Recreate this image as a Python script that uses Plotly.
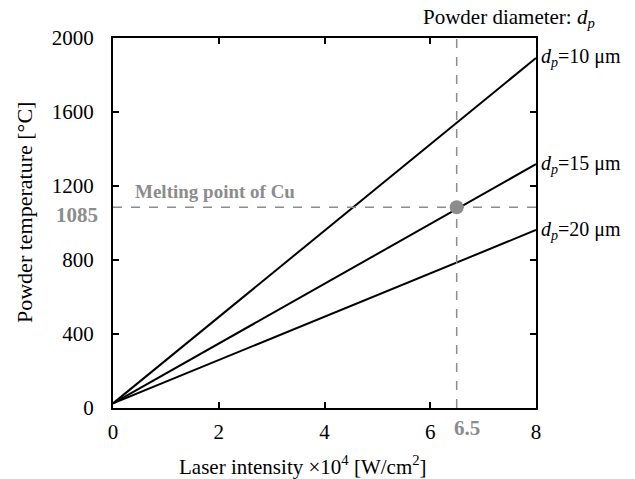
import plotly.graph_objects as go

# Data
intensity = [0, 8]  # ×10^4 W/cm^2
temp_dp10 = [25, 1892]
temp_dp15 = [25, 1318]
temp_dp20 = [25, 962]
series_labels = ["10", "15", "20"]
x_ticks = [0, 2, 4, 6, 8]
y_ticks = [0, 400, 800, 1200, 1600, 2000]
melt_T = 1085
melt_I = 6.5

FONT = "Liberation Serif, Times New Roman, serif"
GRAY = "#8c8c8c"

fig = go.Figure()
for ys in (temp_dp10, temp_dp15, temp_dp20):
    fig.add_trace(go.Scatter(x=intensity, y=ys, mode="lines",
                             line=dict(color="black", width=2), showlegend=False))

fig.add_trace(go.Scatter(x=[0, 8], y=[melt_T, melt_T], mode="lines",
                         line=dict(color=GRAY, width=1.5, dash="dash"), showlegend=False))
fig.add_trace(go.Scatter(x=[melt_I, melt_I], y=[0, 2000], mode="lines",
                         line=dict(color=GRAY, width=1.5, dash="dash"), showlegend=False))
fig.add_trace(go.Scatter(x=[melt_I], y=[melt_T], mode="markers",
                         marker=dict(color=GRAY, size=14), showlegend=False))

for lab, ys in zip(series_labels, (temp_dp10, temp_dp15, temp_dp20)):
    fig.add_annotation(x=8, y=ys[-1], xref="x", yref="y", xanchor="left", yanchor="middle",
                       xshift=3, showarrow=False,
                       text="<i>d<sub>p</sub></i>=%s μm" % lab,
                       font=dict(family=FONT, size=20, color="black"))

fig.add_annotation(x=1, y=1, xref="paper", yref="paper", xanchor="right", yanchor="middle",
                   xshift=61, yshift=20, showarrow=False,
                   text="Powder diameter: <i>d<sub>p</sub></i>",
                   font=dict(family=FONT, size=21, color="black"))
fig.add_annotation(x=0.38, y=melt_T, xref="x", yref="y", xanchor="left", yanchor="bottom",
                   yshift=3, showarrow=False, text="<b>Melting point of Cu</b>",
                   font=dict(family=FONT, size=19, color=GRAY))
fig.add_annotation(x=0, y=melt_T, xref="paper", yref="y", xanchor="right", yanchor="middle",
                   xshift=-13, yshift=-8, showarrow=False, text="<b>1085</b>",
                   font=dict(family=FONT, size=21, color=GRAY))
fig.add_annotation(x=melt_I, y=0, xref="x", yref="paper", xanchor="center", yanchor="middle",
                   xshift=10, yshift=-20, showarrow=False, text="<b>6.5</b>",
                   font=dict(family=FONT, size=21, color=GRAY))

# Axis titles
fig.add_annotation(x=0.449, y=0, xref="paper", yref="paper", xanchor="center", yanchor="middle",
                   yshift=-57, showarrow=False,
                   text="Laser intensity ×10<sup>4</sup> [W/cm<sup>2</sup>]",
                   font=dict(family=FONT, size=21, color="black"))
fig.add_annotation(x=0, y=0.527, xref="paper", yref="paper", xanchor="center", yanchor="middle",
                   xshift=-89, textangle=-90, showarrow=False,
                   text="Powder temperature [°C]",
                   font=dict(family=FONT, size=22, color="black"))

axis_common = dict(showline=True, linecolor="black", linewidth=2, mirror="allticks",
                   ticks="inside", ticklen=6, tickwidth=1.5, tickcolor="black",
                   showgrid=False, zeroline=False,
                   tickfont=dict(family=FONT, size=21, color="black"))

fig.update_xaxes(range=[0, 8], tickvals=x_ticks, ticktext=[str(v) for v in x_ticks],
                 ticklabelstandoff=4, **axis_common)
fig.update_yaxes(range=[0, 2000], tickvals=y_ticks, ticktext=[str(v) for v in y_ticks],
                 ticklabelstandoff=13, **axis_common)

fig.update_layout(width=635, height=479, margin=dict(l=113, r=99, t=38, b=71),
                  plot_bgcolor="white", paper_bgcolor="white")

fig.write_html("out.html")
